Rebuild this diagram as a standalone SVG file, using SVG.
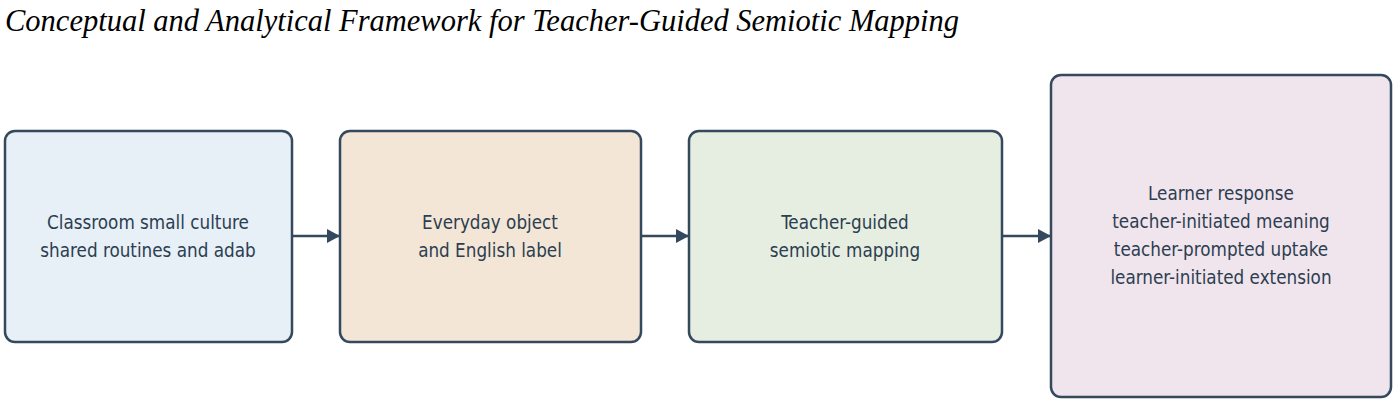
<svg xmlns="http://www.w3.org/2000/svg" width="1400" height="410" viewBox="0 0 1400 410">
<style>
.b{stroke:#34495e;stroke-width:2.5}
.t{font-family:"DejaVu Sans Condensed","DejaVu Sans",sans-serif;font-size:18.7px;fill:#2c3e50;text-anchor:middle}
.c{stroke:#34495e;stroke-width:2.5;fill:none;marker-end:url(#a)}
</style>
<defs><marker id="a" markerWidth="14" markerHeight="16" refX="13" refY="8" orient="auto" markerUnits="userSpaceOnUse"><path d="M0,1L13,8L0,15z" fill="#34495e"/></marker></defs>
<rect width="1400" height="410" fill="#fff"/>
<text x="5" y="31" font-family="'Liberation Serif',serif" font-style="italic" font-size="30.5" fill="#000">Conceptual and Analytical Framework for Teacher-Guided Semiotic Mapping</text>
<g id="n1"><rect class="b" x="5" y="131" width="287" height="211" rx="10" fill="#e7eff7"/><text class="t" x="148" y="229">Classroom small culture</text><text class="t" x="148" y="257">shared routines and adab</text></g>
<g id="n2"><rect class="b" x="340" y="131" width="301" height="211" rx="10" fill="#f3e6d7"/><text class="t" x="490" y="229">Everyday object</text><text class="t" x="490" y="257">and English label</text></g>
<g id="n3"><rect class="b" x="689" y="131" width="313" height="211" rx="10" fill="#e6eee2"/><text class="t" x="845" y="229">Teacher-guided</text><text class="t" x="845" y="257">semiotic mapping</text></g>
<g id="n4"><rect class="b" x="1051" y="75" width="340" height="322" rx="10" fill="#f0e4ed"/><text class="t" x="1221" y="200">Learner response</text><text class="t" x="1221" y="228">teacher-initiated meaning</text><text class="t" x="1221" y="256">teacher-prompted uptake</text><text class="t" x="1221" y="284">learner-initiated extension</text></g>
<g id="connectors"><path class="c" d="M292,236H340"/><path class="c" d="M641,236H689"/><path class="c" d="M1002,236H1051"/></g>
</svg>
